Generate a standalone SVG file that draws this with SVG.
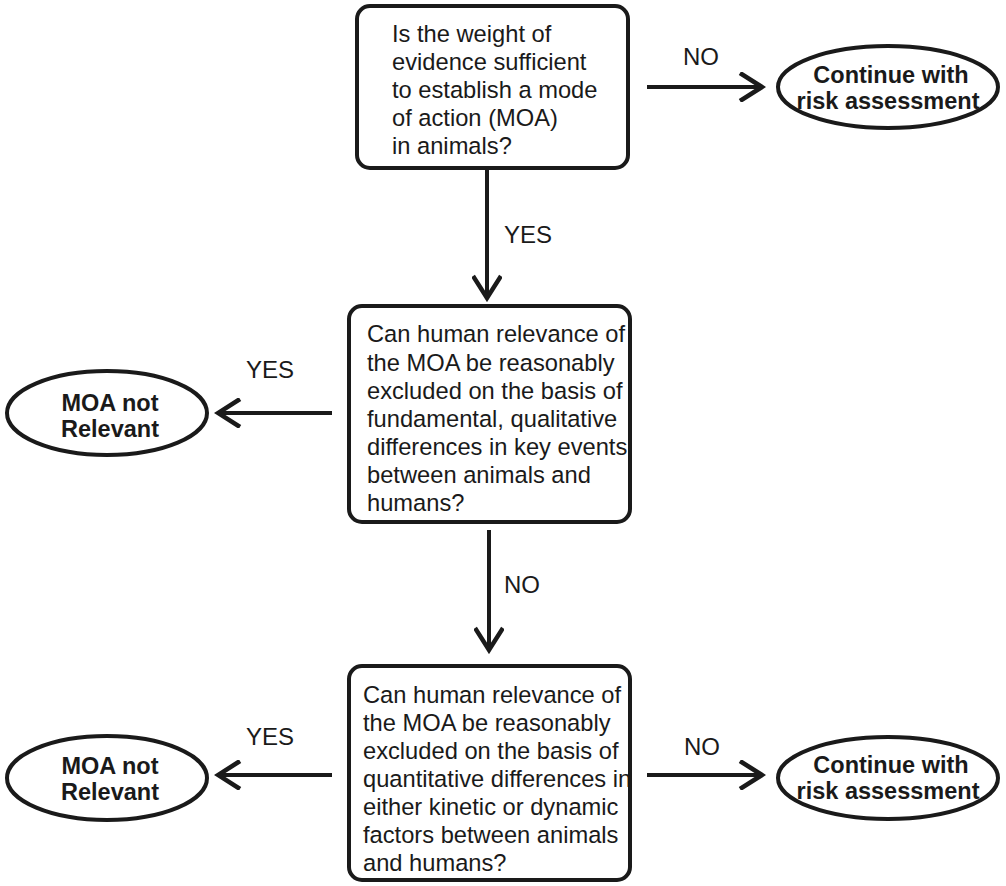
<svg xmlns="http://www.w3.org/2000/svg" width="1006" height="886" viewBox="0 0 1006 886">
<style>
.box{fill:#fff;stroke:#1a1a1a;stroke-width:4}
.ell{fill:#fff;stroke:#1a1a1a;stroke-width:4}
.t{font-family:"Liberation Sans",Arial,sans-serif;font-size:23.7px;fill:#1a1a1a}
.b{font-family:"Liberation Sans",Arial,sans-serif;font-size:23.5px;font-weight:bold;fill:#1a1a1a;text-anchor:middle}
.lbl{font-family:"Liberation Sans",Arial,sans-serif;font-size:24px;fill:#1a1a1a;text-anchor:middle}
.c{stroke:#1a1a1a;stroke-width:4;fill:none}
</style>
<defs>
<marker id="ah" viewBox="0 0 30 30" refX="26" refY="15" markerWidth="30" markerHeight="30" markerUnits="userSpaceOnUse" orient="auto">
<path d="M4,1 L26,15 L4,29" fill="none" stroke="#1a1a1a" stroke-width="4.5"/>
</marker>
</defs>
<g id="connectors">
<line class="c" x1="647" y1="87" x2="762" y2="87" marker-end="url(#ah)"/>
<line class="c" x1="487" y1="169" x2="487" y2="298" marker-end="url(#ah)"/>
<line class="c" x1="332" y1="413" x2="218" y2="413" marker-end="url(#ah)"/>
<line class="c" x1="489" y1="530" x2="489" y2="650" marker-end="url(#ah)"/>
<line class="c" x1="332" y1="775" x2="218" y2="775" marker-end="url(#ah)"/>
<line class="c" x1="647" y1="775" x2="762" y2="775" marker-end="url(#ah)"/>
<text class="lbl" x="701" y="65">NO</text>
<text class="lbl" x="528" y="243">YES</text>
<text class="lbl" x="270" y="378">YES</text>
<text class="lbl" x="522" y="593">NO</text>
<text class="lbl" x="270" y="745">YES</text>
<text class="lbl" x="702" y="755">NO</text>
</g>
<g id="q1">
<rect class="box" x="357" y="6" width="271" height="162" rx="13"/>
<text class="t" x="392" y="42">Is the weight of</text>
<text class="t" x="392" y="70">evidence sufficient</text>
<text class="t" x="392" y="98">to establish a mode</text>
<text class="t" x="392" y="126">of action (MOA)</text>
<text class="t" x="392" y="154">in animals?</text>
</g>
<g id="end1">
<ellipse class="ell" cx="888" cy="87" rx="110" ry="41"/>
<text class="b" x="891" y="83">Continue with</text>
<text class="b" x="888" y="109">risk assessment</text>
</g>
<g id="q2">
<rect class="box" x="349" y="306" width="281" height="216" rx="13"/>
<text class="t" x="367" y="342">Can human relevance of</text>
<text class="t" x="367" y="371">the MOA be reasonably</text>
<text class="t" x="367" y="399">excluded on the basis of</text>
<text class="t" x="367" y="427">fundamental, qualitative</text>
<text class="t" x="367" y="455">differences in key events</text>
<text class="t" x="367" y="483">between animals and</text>
<text class="t" x="367" y="511">humans?</text>
</g>
<g id="end2">
<ellipse class="ell" cx="107" cy="413" rx="100" ry="42"/>
<text class="b" x="110" y="411">MOA not</text>
<text class="b" x="110" y="437">Relevant</text>
</g>
<g id="q3">
<rect class="box" x="349" y="666" width="281" height="214" rx="13"/>
<text class="t" x="363" y="703">Can human relevance of</text>
<text class="t" x="363" y="731">the MOA be reasonably</text>
<text class="t" x="363" y="759">excluded on the basis of</text>
<text class="t" x="363" y="787">quantitative differences in</text>
<text class="t" x="363" y="815">either kinetic or dynamic</text>
<text class="t" x="363" y="843">factors between animals</text>
<text class="t" x="363" y="871">and humans?</text>
</g>
<g id="end3">
<ellipse class="ell" cx="107" cy="778" rx="100" ry="42"/>
<text class="b" x="110" y="774">MOA not</text>
<text class="b" x="110" y="800">Relevant</text>
</g>
<g id="end4">
<ellipse class="ell" cx="888" cy="778" rx="110" ry="41"/>
<text class="b" x="891" y="773">Continue with</text>
<text class="b" x="888" y="799">risk assessment</text>
</g>
</svg>
